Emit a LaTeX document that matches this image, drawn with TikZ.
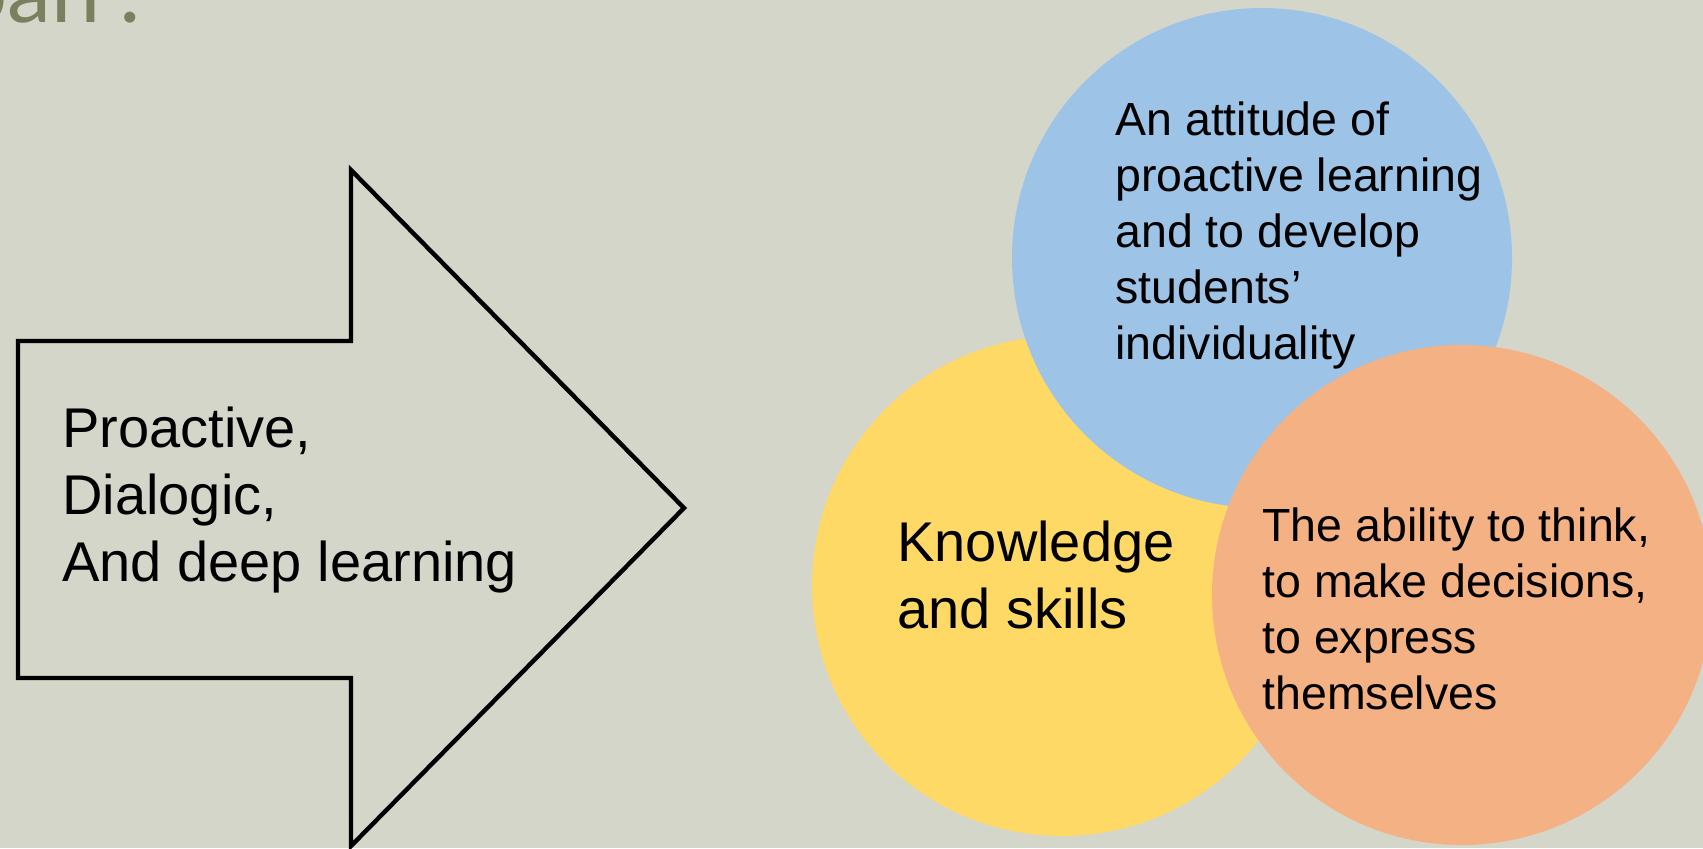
\documentclass[tikz,border=0pt]{standalone}
\usepackage{fontspec}
\setmainfont{Liberation Sans}
\newfontfamily\titlefont{Lato}
\definecolor{bgc}{RGB}{212,214,201}
\definecolor{titlec}{RGB}{122,128,94}
\definecolor{bluec}{RGB}{157,195,230}
\definecolor{yellowc}{RGB}{255,217,102}
\definecolor{orangec}{RGB}{244,177,131}
\begin{document}
\begin{tikzpicture}[x=0.5pt,y=-0.5pt,
  bubble/.style={circle,inner sep=0pt,minimum size=250pt,draw=none},
  bigtext/.style={inner sep=0pt,anchor=base west,font=\fontsize{28}{33.5}\selectfont},
  smalltext/.style={inner sep=0pt,anchor=base west,font=\fontsize{23.25}{28}\selectfont},
  arrowshape/.style={draw=black,line width=2.2pt,line join=miter}]
\useasboundingbox (0,0) rectangle (1703,848);
\fill[bgc] (0,0) rectangle (1703,848);
\clip (0,0) rectangle (1703,848);
% title fragment
\node[inner sep=0pt,anchor=base west,text=titlec,font=\titlefont\fontsize{44}{48}\selectfont] (title) at (-42,22) {pan\kern9pt!};
% arrow
\coordinate (a1) at (18,341);
\coordinate (a2) at (351,341);
\coordinate (a3) at (351,170);
\coordinate (tip) at (684,508);
\coordinate (a5) at (351,846);
\coordinate (a6) at (351,678);
\coordinate (a7) at (18,678);
\draw[arrowshape] (a1) -- (a2) -- (a3) -- (tip) -- (a5) -- (a6) -- (a7) -- cycle;
\node[bigtext] (arrowtext) at (62,447) {\begin{tabular}[t]{@{}l@{}}Proactive,\\Dialogic,\\And deep learning\end{tabular}};
% circles
\node[bubble,fill=yellowc] (yellow) at (1062,586) {};
\node[bubble,fill=bluec] (blue) at (1262,258) {};
\node[bubble,fill=orangec] (orange) at (1462,595) {};
\node[smalltext] (bluetext) at (1115,135) {\begin{tabular}[t]{@{}l@{}}An attitude of\\proactive learning\\and to develop\\students’\\individuality\end{tabular}};
\node[bigtext] (yellowtext) at (897,561) {\begin{tabular}[t]{@{}l@{}}Knowledge\\and skills\end{tabular}};
\node[smalltext] (orangetext) at (1262,541) {\begin{tabular}[t]{@{}l@{}}The ability to think,\\to make decisions,\\to express\\themselves\end{tabular}};
\end{tikzpicture}
\end{document}
